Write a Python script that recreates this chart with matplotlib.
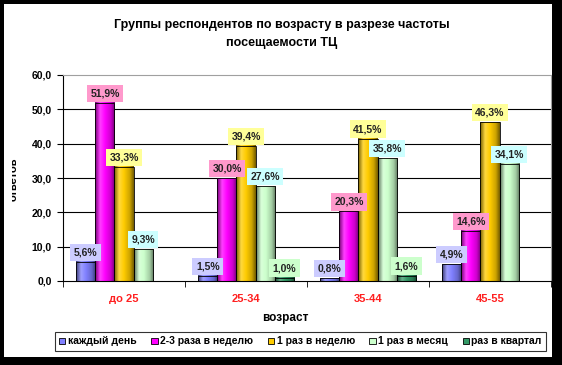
import matplotlib
matplotlib.use("Agg")
import matplotlib.pyplot as plt
import numpy as np
from matplotlib.colors import LinearSegmentedColormap, to_rgb
from matplotlib.patches import Rectangle, Patch

plt.rcParams['font.family'] = ['Liberation Sans', 'DejaVu Sans']

categories = ["до 25", "25-34", "35-44", "45-55"]
series_names = ["каждый день", "2-3 раза в неделю", "1 раз в неделю", "1 раз в месяц", "раз в квартал"]
every_day = [5.6, 1.5, 0.8, 4.9]
two_three_week = [51.9, 30.0, 20.3, 14.6]
once_week = [33.3, 39.4, 41.5, 46.3]
once_month = [9.3, 27.6, 35.8, 34.1]
once_quarter = [0.0, 1.0, 1.6, 0.0]
series_values = [every_day, two_three_week, once_week, once_month, once_quarter]
yticks = [0, 10, 20, 30, 40, 50, 60]

bar_colors = ["#8080FF", "#FF00FF", "#FFCC00", "#CCFFCC", "#339966"]
label_bg = ["#CCCCFF", "#FF99CC", "#FFFF99", "#CCFFFF", "#CCFFCC"]

W, H = 562, 365
fig = plt.figure(figsize=(W / 100, H / 100), dpi=100)
fig.patch.set_facecolor("black")
# white chart area
fig.patches.append(Rectangle((4 / W, 1 - 357 / H), (552 - 4) / W, (357 - 4) / H,
                             transform=fig.transFigure, facecolor="white",
                             edgecolor="none", zorder=-5))

ax = fig.add_axes([63 / W, (H - 281) / H, (551 - 63) / W, (281 - 75) / H])
ax.set_facecolor("white")
ax.set_xlim(-0.5, 3.5)
ax.set_ylim(0, 60)

def shade(c, f):
    r = np.array(to_rgb(c))
    if f <= 1:
        return tuple(r * f)
    return tuple(r + (1 - r) * (f - 1))

w = 0.156
x = np.arange(len(categories))
for i, (vals, col) in enumerate(zip(series_values, bar_colors)):
    cmap = LinearSegmentedColormap.from_list(
        "g%d" % i,
        [(0.0, shade(col, 0.45)), (0.25, shade(col, 1.25)), (0.5, shade(col, 1.0)),
         (0.8, shade(col, 0.8)), (1.0, shade(col, 0.45))])
    grad = np.linspace(0, 1, 64).reshape(1, -1)
    for xi, v in zip(x, vals):
        if v <= 0:
            continue
        xc = xi + (i - 2) * w
        ax.imshow(grad, cmap=cmap, aspect="auto", extent=(xc - w / 2, xc + w / 2, 0, v),
                  zorder=2, interpolation="bilinear")
        ax.add_patch(Rectangle((xc - w / 2, 0), w, v, facecolor="none",
                               edgecolor="black", lw=0.6, zorder=3))
        ax.annotate(("%.1f%%" % v).replace(".", ","), (xc, v), xytext=(0, 3.2),
                    textcoords="offset points", ha="center", va="bottom",
                    fontsize=7.5, fontweight="bold", color="#222222", zorder=5,
                    bbox=dict(boxstyle="square,pad=0.35", facecolor=label_bg[i],
                              edgecolor="none"))

ax.set_xlim(-0.5, 3.5)
ax.set_ylim(0, 60)
ax.set_yticks(yticks)
ax.set_yticklabels([("%.1f" % t).replace(".", ",") for t in yticks],
                   fontsize=7.5, fontweight="bold")
for t in yticks[1:-1]:
    ax.axhline(t, color="black", lw=0.8, zorder=1)
ax.set_xticks(x)
ax.set_xticklabels(categories, color="#FF2020", fontsize=8, fontweight="bold")
ax.tick_params(axis="x", which="major", length=0, pad=9)
ax.set_xticks(np.arange(-0.5, 4.0, 1.0), minor=True)
ax.tick_params(axis="x", which="minor", length=4, direction="out", color="black")
ax.tick_params(axis="y", length=4, direction="out", pad=4)
ax.spines["top"].set_color("#A0A0A0")
ax.spines["top"].set_linestyle((0, (1, 1)))
ax.spines["right"].set_color("#A0A0A0")
ax.spines["left"].set_color("black")
ax.spines["bottom"].set_color("black")

fig.text(285 / W, 1 - 318 / H, "возраст", ha="center", va="center",
         fontsize=8.5, fontweight="bold")
fig.text(282 / W, 1 - 25 / H, "Группы респондентов по возрасту в разрезе частоты",
         ha="center", va="center", fontsize=9, fontweight="bold")
fig.text(282 / W, 1 - 43 / H, "посещаемости ТЦ",
         ha="center", va="center", fontsize=9, fontweight="bold")
fig.text(13.5 / W, 1 - 179 / H, "ответов", ha="center", va="center", rotation=90,
         fontsize=8, fontweight="bold")
# white strip cutting off part of the axis label, like the reference
fig.patches.append(Rectangle((4 / W, 1 - 205 / H), 8 / W, 55 / H, transform=fig.transFigure,
                             facecolor="white", edgecolor="none", zorder=10))

handles = [Patch(facecolor=c, edgecolor="black", lw=0.6) for c in bar_colors]
leg = fig.legend(handles, series_names, loc="center",
                 bbox_to_anchor=((55 + 546) / 2 / W, 1 - 341.5 / H),
                 ncol=5, fontsize=7.5, frameon=True, fancybox=False,
                 handlelength=0.6, handleheight=0.6, handletextpad=0.25,
                 columnspacing=1.4, borderpad=0.45, borderaxespad=0)
for t in leg.get_texts():
    t.set_fontweight("bold")
leg.get_frame().set_edgecolor("black")
leg.get_frame().set_linewidth(0.8)

fig.savefig("out.png", dpi=100, facecolor=fig.get_facecolor())
